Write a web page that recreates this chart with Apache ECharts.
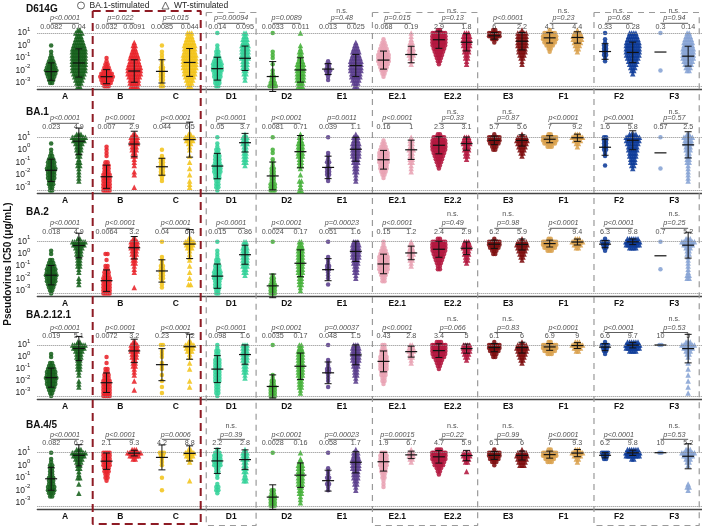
<!DOCTYPE html>
<html><head><meta charset="utf-8">
<script src="https://cdn.jsdelivr.net/npm/echarts@6/dist/echarts.min.js"></script>
<style>html,body{margin:0;padding:0;background:#fff}#c{width:702px;height:529px}</style>
</head><body><div id="c"></div>
<script>
// ---------------- DATA ----------------
const groups = ['A','B','C','D1','D2','E1','E2.1','E2.2','E3','F1','F2','F3'];
const groupColors = ['#17611c','#e8232a','#f3c41b','#33d199','#45b03a','#5a3d8c','#e8a2b3','#b3173f','#7d0c0e','#d9a14c','#0e3b99','#86a3d4'];
const variants = ['D614G','BA.1','BA.2','BA.2.12.1','BA.4/5'];
// log10(IC50) levels (top to bottom); counts arrays below give number of points per level
const levels = [1.25,1,0.75,0.5,0.25,0,-0.25,-0.5,-0.75,-1,-1.25,-1.5,-1.75,-2,-2.25,-2.5,-2.75,-3,-3.25];
const detectionLimits = [1, -3.25];

// per variant: 24 columns = for each group [BA.1-stimulated, WT-stimulated]
const d614gCounts = [
 [0,0,0,0,0,1,0,1,1,2,3,4,5,6,5,4,3,2,0],[2,4,3,4,5,6,7,8,8,8,8,8,7,7,6,5,4,3,2],
 [0,0,0,0,0,0,0,0,0,1,1,2,3,4,6,7,6,5,3],[0,0,0,0,1,2,2,3,4,5,5,6,7,7,7,6,5,5,4],
 [0,0,0,0,0,1,0,1,1,1,1,1,2,2,2,2,2,1,2],[0,3,3,4,5,6,6,6,7,7,7,7,7,6,6,5,4,3,2],
 [0,1,0,0,0,1,1,2,2,3,4,5,5,5,4,4,3,3,2],[0,2,2,3,3,4,4,4,4,4,3,3,3,2,2,1,1],
 [0,1,0,0,0,0,0,1,1,1,0,1,0,1,1,2,2,3,4],[0,1,0,0,0,1,1,2,2,2,3,4,4,4,4,4,4,3,3],
 [0,0,0,0,0,0,0,0,0,0,1,2,2,3,2,1,1],[0,0,0,0,1,2,3,4,4,5,6,6,6,6,5,5,4,3,2],
 [0,0,0,1,2,3,4,5,6,6,6,5,4,3,2,1],[0,1,1,1,2,2,3,3,3,2,1,1],
 [2,7,8,8,8,7,6,5,4,3,2,1],[0,3,4,4,4,4,3,3,2,2,1,1],
 [2,6,6,3,1],[1,5,5,5,5,5,4,4,3,2,1,1],
 [1,6,8,8,6,4,2,1],[1,4,5,5,4,3,2,1],
 [0,1,0,1,1,2,2,2,2,1,1],[0,4,5,6,7,8,8,8,7,6,5,4,3,2,1],
 [0,1,0,0,0,0,0,0,0,0,0,0,0,1],[0,2,3,4,5,5,6,6,6,6,5,4,3,2]
];
const ba1Counts = [
 [0,0,0,1,0,1,1,2,3,4,4,5,4,4,4,3,3,2,2],[3,8,6,4,3,3,2,2,1,2,2,1,1,1,1,1],
 [0,0,0,0,1,1,1,1,0,2,3,3,3,4,4,4,4,4,4],[2,4,4,4,3,3,2,2,1,1,1,0,1,1,0,0,0,1],
 [0,0,0,0,0,1,0,1,2,2,2,2,2,2,1,1],[2,5,4,2,1,1,0,1,0,1,0,1,0,1,0,1,1,1],
 [0,1,0,1,1,2,2,3,3,3,4,4,4,3,3,2,2,2,1],[1,3,3,3,2,2,2,2,2,2,1],
 [0,1,0,0,0,1,1,0,1,1,1,2,2,2,2,2,3,3,3],[1,2,2,3,3,3,3,3,2,2,2,1,0,1,0,2,1,1,2],
 [0,1,0,0,0,0,1,1,1,2,1,2,2,2,1,1],[1,3,3,4,4,4,4,4,3,3,2,2,2,1,1,1],
 [0,0,1,2,3,4,5,5,5,5,4,4,3,2,1],[0,1,2,2,2,3,2,2,2,2,1,1,1],
 [2,6,7,8,8,7,6,5,4,3,2,1],[0,3,4,4,3,3,2,2,1],
 [1,6,6,5,3,2],[1,5,6,5,4,3,2,1],
 [2,8,9,6,3],[3,6,4,2,1],
 [0,2,2,2,2,2,1,1,0,0,1],[4,9,7,6,5,5,4,4,3,3,2,1],
 [0,1,0,0,0,0,0,0,0,0,0,1],[2,5,4,4,3,3,2,2,2,2,1,1,1,1,1,1]
];
const ba2Counts = [
 [0,0,0,0,1,1,0,2,3,4,5,5,6,5,5,4,3,2,1],[2,7,6,4,3,3,2,2,2,2,1,1,0,1,1,1],
 [0,0,0,0,0,2,0,1,0,2,2,3,3,4,4,4,4,4,4],[2,4,4,4,3,3,2,2,2,1,1,1,0,0,0,0,1],
 [0,1,0,0,0,0,1,1,1,2,2,2,2,2,1,1,1],[2,5,4,3,1,1,1,1,0,1,0,1,0,1,0,2],
 [0,1,0,0,1,1,1,2,2,3,3,4,4,4,3,3,3,2,2],[0,2,2,3,3,3,3,3,3,3,2,2,1],
 [0,1,0,0,0,0,0,0,0,0,0,0,1,2,2,3,3,3,3],[0,2,2,3,3,3,3,3,3,3,3,3,2,2,2,2,1,1],
 [0,1,0,0,0,0,1,1,1,2,2,1,1,1,0,1],[0,3,4,4,4,4,4,3,3,2,2,2,1,1],
 [0,1,1,2,3,4,5,5,5,5,5,4,3,2,2],[0,1,2,2,3,3,2,2,1,1],
 [2,7,8,8,7,6,5,4,3,2,2],[0,3,4,4,3,3,2,2,1],
 [1,6,6,5,3,2],[1,5,6,5,4,3,2,1],
 [2,8,9,6,3],[3,6,4,2],
 [1,4,3,2,1],[6,14,8,4],
 [0,1,0,0,0,0,0,0,0,0,1],[3,7,5,3,2,2,1,1,1,1,1,1,2,2]
];
const ba2121Counts = [
 [0,0,0,0,1,1,0,2,3,4,5,5,6,5,5,4,3,2,1],[2,7,6,4,3,3,2,2,2,2,1,1,0,1,1,1],
 [0,0,0,0,0,1,0,1,0,2,2,3,3,4,4,4,4,4,4],[2,4,4,4,3,3,2,2,2,1,1,1,0,1,0,0,1],
 [0,2,0,1,1,1,0,1,1,1,0,1,0,1,0,1,0,1],[2,5,4,3,1,1,0,1,0,1,0,0,0,1,0,1],
 [0,1,1,2,2,2,3,3,3,3,3,3,3,3,2,2,2,2,1],[0,3,3,3,3,3,3,2,2,2,2,1,1],
 [0,1,0,0,0,0,0,0,0,0,0,1,1,2,2,3,3,3,3],[0,2,2,3,3,3,3,3,3,3,3,3,2,2,2,2,1,1],
 [0,1,0,0,0,0,1,1,1,2,2,1,1,1,0,1],[0,3,4,4,4,4,4,3,3,2,2,2,1,1],
 [0,2,2,3,3,4,4,4,4,4,3,3,2,2,1],[0,2,3,3,2,2,1,1],
 [3,8,8,8,7,6,4,3,2,1],[0,4,4,4,3,2,1],
 [1,6,6,5,3,2],[1,5,6,5,4,3,2,1],
 [2,8,9,6,3],[3,6,4,2],
 [1,4,3,2,1],[6,14,8,4],
 [0,2],[3,7,5,3,2,1,0,1,0,1,0,1,0,1,0,1,0,1]
];
const ba45Counts = [
 [0,1,0,1,1,2,2,2,2,3,3,3,4,4,3,2],[3,8,6,4,3,2,2,1,1,2,0,1,0,0,1],
 [0,4,4,4,4,4,3,3,2,2,1],[3,8,5,2],
 [0,3,2,1,1,1,0,0,0,1,0,0,0,1],[2,5,4,2,1,0,0,0,0,0,1],
 [1,3,4,4,4,4,2,2,1,1,0,1,2,2,1],[1,3,3,3,2,2,2,2,1,2,2],
 [0,1,0,0,0,0,0,0,0,0,0,0,0,2,2,3,3,3,3],[0,1,0,1,2,3,3,3,3,3,3,3,2,2,2,1,1,1],
 [0,1,0,0,0,0,1,1,1,2,1,2,1,1],[1,3,3,4,4,4,4,3,3,3,2,2,1,1],
 [0,3,4,4,4,4,3,3,2,2,1,1,1],[1,3,3,2,1],
 [3,9,9,8,6,5,3,2,1],[0,4,4,3,2,0,0,1],
 [1,6,6,5,3,1],[1,5,6,5,4,3],
 [2,8,9,5,3],[3,6,4,2,1],
 [0,4,3,2],[6,14,8,2],
 [0,2],[3,7,5,3,2,1,0,0,0,0,0,1,2,1]
];
const allCounts = [d614gCounts, ba1Counts, ba2Counts, ba2121Counts, ba45Counts];

// geometric mean labels (BA.1-stimulated / WT-stimulated) and p-values
const ba1Labels = [
 ['0.0082','0.0032','0.0085','0.014','0.0033','0.013','0.068','2.9','6','4.1','0.33','0.3'],
 ['0.023','0.007','0.044','0.05','0.0081','0.039','0.16','2.3','5.7','7','1.6','0.57'],
 ['0.018','0.0064','0.04','0.015','0.0024','0.051','0.15','2.4','6.2','7','6.3','0.7'],
 ['0.019','0.0072','0.23','0.098','0.0035','0.048','0.43','3.4','6.1','6.9','6.6','10'],
 ['0.082','2.1','4.2','2.2','0.0028','0.058','1.9','4.7','6.1','7','6.2','10']
];
const wtLabels = [
 ['0.04','0.0091','0.044','0.095','0.011','0.025','0.19','1.8','2.2','4.4','0.28','0.14'],
 ['4.9','2.9','6.5','3.7','0.71','1.1','1','3.1','5.6','9.2','5.8','2.5'],
 ['4.9','3.2','6.4','0.86','0.17','1.6','1.2','2.9','5.9','9.4','9.8','5.2'],
 ['5.1','3.2','7.2','1.6','0.17','1.5','2.8','5','6','9','9.7','5'],
 ['6.2','9.3','8.8','2.8','0.16','1.7','6.7','5.9','6','9.3','9.8','5.2']
];
const pLabels = [
 ['p<0.0001','p=0.022','p=0.015','p=0.00094','p=0.0089','p=0.48','p=0.015','p=0.13','p<0.0001','p=0.23','p=0.68','p=0.94'],
 ['p<0.0001','p<0.0001','p<0.0001','p<0.0001','p<0.0001','p=0.0011','p<0.0001','p=0.33','p=0.87','p<0.0001','p<0.0001','p=0.57'],
 ['p<0.0001','p<0.0001','p<0.0001','p<0.0001','p<0.0001','p=0.00023','p<0.0001','p=0.49','p=0.98','p<0.0001','p<0.0001','p=0.25'],
 ['p<0.0001','p<0.0001','p<0.0001','p<0.0001','p<0.0001','p=0.00037','p<0.0001','p=0.066','p=0.83','p<0.0001','p<0.0001','p=0.53'],
 ['p<0.0001','p<0.0001','p=0.0006','p=0.39','p<0.0001','p=0.00023','p=0.00015','p=0.22','p=0.99','p<0.0001','p<0.0001','p=0.53']
];
const nsFlags = [
 [0,0,0,0,0,1,0,1,0,1,1,1],
 [0,0,0,0,0,0,0,1,1,0,0,1],
 [0,0,0,0,0,0,0,1,1,0,0,1],
 [0,0,0,0,0,0,0,1,1,0,0,1],
 [0,0,0,1,0,0,0,1,1,0,0,1]
];
const yTickExps = [-3,-2,-1,0,1];
// dashed boxes: group index ranges
const boxGroups = [[1,2],[3,3],[6,7],[10,11]];

// ---------------- LAYOUT ----------------
const FONT = 'Liberation Sans, Arial, Helvetica, sans-serif';
const gridLeft = 37.3, gridWidth = 665.4;
const pxPerUnit = gridWidth / 12;
const rowY10 = [33, 137.3, 241.7, 345, 452.7];
const rowDec = [12.5, 12.5, 12.2, 12, 12.5];
const numOff = [6.3, 10.6, 10, 9, 10];
const lineOff = [9.7, 14, 13.4, 12.5, 13.4];
const pOff = [15, 19, 18.4, 17.5, 17.7];
const nsOff = [22, 25.6, 27.7, 25.5, 26.7];
const titleY = [10, 113.3, 213.3, 316, 426.7];
const YMIN = -3.5, YMAX = 3;

const grids = [], xAxes = [], yAxes = [], series = [], titles = [];
const half = 0.25;

function expand(counts) {
  const vals = [];
  counts.forEach((c, i) => { for (let k = 0; k < c; k++) vals.push(levels[i]); });
  return vals;
}
function sdOf(v) {
  if (v.length < 2) return 0;
  const m = v.reduce((a, b) => a + b, 0) / v.length;
  return Math.sqrt(v.reduce((a, b) => a + (b - m) * (b - m), 0) / (v.length - 1));
}

function renderErr(params, api) {
  const x = api.value(0), m = api.value(1), lo = api.value(2), hi = api.value(3), w = api.value(4);
  const pm = api.coord([x, m]);
  const st = { stroke: '#111', lineWidth: 1.2 };
  const ch = [{ type: 'line', shape: { x1: pm[0] - 6, y1: pm[1], x2: pm[0] + 6, y2: pm[1] }, style: st }];
  if (w) {
    const pl = api.coord([x, lo]), ph = api.coord([x, hi]);
    ch.push({ type: 'line', shape: { x1: pl[0], y1: pl[1], x2: ph[0], y2: ph[1] }, style: { stroke: '#111', lineWidth: 1 } });
    ch.push({ type: 'line', shape: { x1: pl[0] - 3.5, y1: pl[1], x2: pl[0] + 3.5, y2: pl[1] }, style: { stroke: '#111', lineWidth: 1 } });
    ch.push({ type: 'line', shape: { x1: ph[0] - 3.5, y1: ph[1], x2: ph[0] + 3.5, y2: ph[1] }, style: { stroke: '#111', lineWidth: 1 } });
  }
  return { type: 'group', children: ch };
}
function renderBracket(params, api) {
  const g = api.value(0), y = api.value(1);
  const a = api.coord([g - half, y]), b = api.coord([g + half, y]);
  return { type: 'line', shape: { x1: a[0], y1: a[1], x2: b[0], y2: b[1] }, style: { stroke: '#333', lineWidth: 0.8 } };
}

for (let r = 0; r < 5; r++) {
  const dec = rowDec[r];
  grids.push({ left: gridLeft, width: gridWidth, top: rowY10[r] - (YMAX - 1) * dec, height: (YMAX - YMIN) * dec });
  xAxes.push({
    type: 'category', gridIndex: r, data: groups, boundaryGap: true,
    axisLine: { onZero: false, lineStyle: { color: '#444', width: 1.3 } }, axisTick: { show: false },
    axisLabel: { interval: 0, fontWeight: 'bold', fontSize: 8.5, color: '#111', margin: 3, fontFamily: FONT }
  });
  xAxes.push({ type: 'value', gridIndex: r, min: -0.5, max: 11.5, show: false });
  yAxes.push({
    type: 'value', gridIndex: r, min: YMIN, max: YMAX,
    axisLine: { show: false }, axisTick: { show: false }, splitLine: { show: false },
    axisLabel: {
      customValues: yTickExps, margin: 7,
      formatter: v => (Math.abs(v - Math.round(v)) < 1e-6 && v >= -3 && v <= 1) ? '{b|10}{s|' + Math.round(v) + '}' : '',
      rich: {
        b: { fontSize: 8.5, color: '#222', fontFamily: FONT, lineHeight: 14 },
        s: { fontSize: 6, color: '#222', fontFamily: FONT, lineHeight: 8, verticalAlign: 'top' }
      }
    }
  });
  const xi = 2 * r + 1, yi = r;
  const counts = allCounts[r];
  const circ = [], tri = [], errs = [], brackets = [], texts = [];
  for (let g = 0; g < 12; g++) {
    for (let s = 0; s < 2; s++) {
      const col = counts[2 * g + s];
      const cx = g + (s === 0 ? -half : half);
      col.forEach((c, i) => {
        if (!c) return;
        const sp = Math.min(2.1, 15 / c);
        for (let k = 0; k < c; k++) {
          const off = (k - (c - 1) / 2) * sp / pxPerUnit;
          (s === 0 ? circ : tri).push({ value: [cx + off, levels[i]], itemStyle: { color: groupColors[g] } });
        }
      });
      const vals = expand(col);
      const lab = s === 0 ? ba1Labels[r][g] : wtLabels[r][g];
      const m = Math.log10(parseFloat(lab));
      const sd = sdOf(vals);
      errs.push([cx, m, m - sd, m + sd, vals.length >= 3 ? 1 : 0]);
      texts.push({ value: [cx, 1 + numOff[r] / dec], t: lab });
    }
    brackets.push([g, 1 + lineOff[r] / dec]);
    texts.push({ value: [g, 1 + pOff[r] / dec], t: pLabels[r][g], label: { fontStyle: 'italic' } });
    if (nsFlags[r][g]) texts.push({ value: [g, 1 + nsOff[r] / dec], t: 'n.s.' });
  }
  series.push({
    type: 'line', xAxisIndex: xi, yAxisIndex: yi, data: [], silent: true, z: 1,
    markLine: { silent: true, symbol: 'none', label: { show: false },
      lineStyle: { type: 'dotted', color: '#888', width: 1 },
      data: detectionLimits.map(v => ({ yAxis: v })) }
  });
  series.push({ type: 'scatter', xAxisIndex: xi, yAxisIndex: yi, symbol: 'circle', symbolSize: 4.5, data: circ, silent: true, z: 3, itemStyle: { opacity: 0.88 } });
  series.push({ type: 'scatter', xAxisIndex: xi, yAxisIndex: yi, symbol: 'triangle', symbolSize: 5.5, data: tri, silent: true, z: 3, itemStyle: { opacity: 0.88 } });
  series.push({ type: 'custom', xAxisIndex: xi, yAxisIndex: yi, renderItem: renderErr, data: errs, silent: true, z: 5, clip: false });
  series.push({ type: 'custom', xAxisIndex: xi, yAxisIndex: yi, renderItem: renderBracket, data: brackets, silent: true, z: 5, clip: false });
  series.push({
    type: 'scatter', xAxisIndex: xi, yAxisIndex: yi, data: texts, symbolSize: 1, silent: true, clip: false, z: 6,
    itemStyle: { color: 'rgba(0,0,0,0)' },
    label: { show: true, position: 'inside', formatter: p => p.data.t, fontSize: 7.2, color: '#222', fontFamily: FONT }
  });
  titles.push({ text: variants[r], left: 26, top: titleY[r] - 6, padding: 0,
    textStyle: { fontSize: 10, fontWeight: 'bold', color: '#111', fontFamily: FONT } });
}

// overlay grid for dashed group boxes
grids.push({ left: gridLeft, width: gridWidth, top: 0, height: 529 });
xAxes.push({ type: 'value', gridIndex: 5, min: -0.5, max: 11.5, show: false });
yAxes.push({ type: 'value', gridIndex: 5, min: 0, max: 529, inverse: true, show: false });
boxGroups.forEach((bg, i) => {
  const red = i === 0;
  const x0 = bg[0] - 0.5 + (red ? 0 : 0.05), x1 = bg[1] + 0.5 - 0.05;
  const y0 = red ? 11 : 12.5, y1 = red ? 524 : 525.5;
  series.push({
    type: 'line', xAxisIndex: 10, yAxisIndex: 5, showSymbol: false, silent: true, z: 8,
    lineStyle: red ? { color: '#8e1b24', width: 2, type: [8, 5] } : { color: '#9a9a9a', width: 1.2, type: [6, 5] },
    data: [[x0, y0], [x1, y0], [x1, y1], [x0, y1], [x0, y0]]
  });
});
// legend dummies
series.push({ type: 'scatter', name: 'BA.1-stimulated', xAxisIndex: 1, yAxisIndex: 0, data: [] });
series.push({ type: 'scatter', name: 'WT-stimulated', xAxisIndex: 1, yAxisIndex: 0, data: [] });

const chart = echarts.init(document.getElementById('c'), null, { renderer: 'canvas' });
chart.setOption({
  animation: false,
  backgroundColor: '#fff',
  title: titles,
  legend: {
    left: 77, top: 1, padding: 0, itemWidth: 7, itemHeight: 7, itemGap: 12, selectedMode: false,
    textStyle: { fontSize: 8.5, color: '#222', fontFamily: FONT },
    data: [
      { name: 'BA.1-stimulated', icon: 'circle', itemStyle: { color: 'rgba(0,0,0,0)', borderColor: '#444', borderWidth: 1 } },
      { name: 'WT-stimulated', icon: 'triangle', itemStyle: { color: 'rgba(0,0,0,0)', borderColor: '#444', borderWidth: 1 } }
    ]
  },
  graphic: [{ type: 'text', x: 8, y: 264, rotation: Math.PI / 2,
    style: { text: 'Pseudovirus IC50 (μg/mL)', fontSize: 10, fontWeight: 'bold', fill: '#111', fontFamily: FONT, align: 'center', verticalAlign: 'middle' } }],
  grid: grids, xAxis: xAxes, yAxis: yAxes, series: series
});
</script></body></html>
